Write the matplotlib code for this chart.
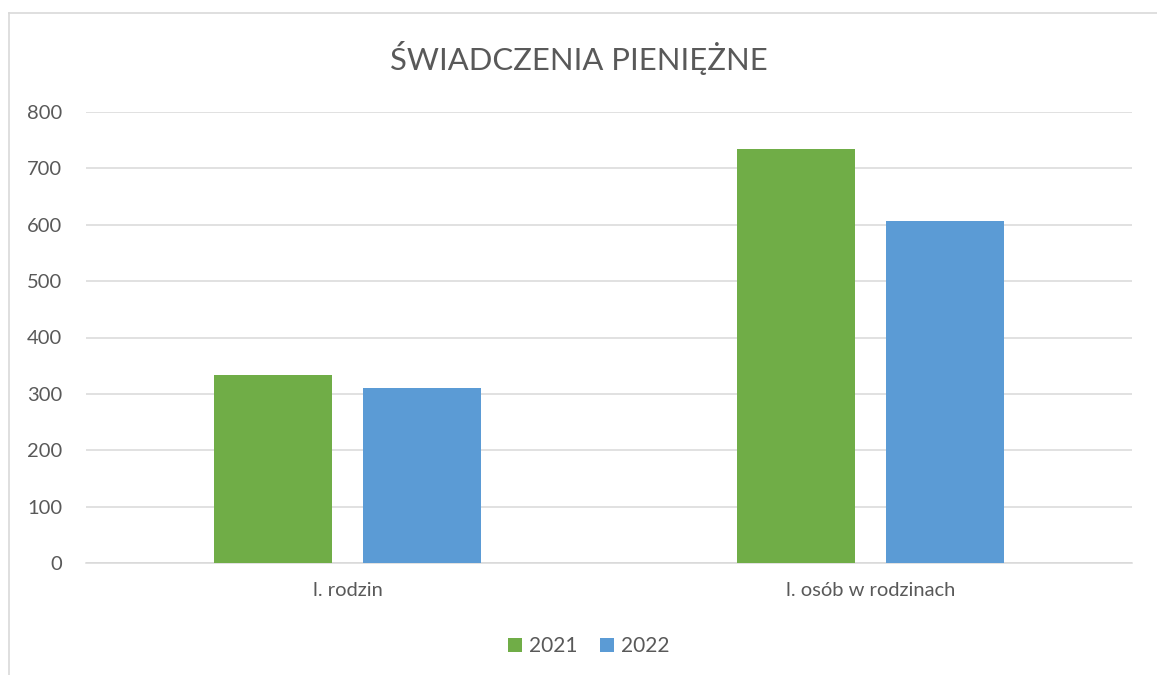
import numpy as np
import matplotlib.pyplot as plt
from matplotlib.lines import Line2D

plt.rcParams['font.family'] = ['Lato', 'DejaVu Sans']

categories = ["l. rodzin", "l. osób w rodzinach"]
series_names = ["2021", "2022"]
values_2021 = [334, 734]
values_2022 = [311, 606]
colors = ["#70ad47", "#5b9bd5"]
yticks = [0, 100, 200, 300, 400, 500, 600, 700, 800]

text_color = "#595959"
grid_color = "#d9d9d9"

fig = plt.figure(figsize=(11.57, 6.75), dpi=100)
ax = fig.add_axes([86 / 1157, 1 - 563 / 675, (1132 - 86) / 1157, (563 - 112) / 675])

x = np.arange(len(categories))
width = 0.224
offset = 0.1425
ax.bar(x - offset, values_2021, width, color=colors[0], label=series_names[0], zorder=3)
ax.bar(x + offset, values_2022, width, color=colors[1], label=series_names[1], zorder=3)

ax.set_xlim(-0.5, len(categories) - 0.5)
ax.set_ylim(0, 800)
ax.set_yticks(yticks)
ax.set_xticks(x)
ax.set_xticklabels(categories)
ax.yaxis.grid(True, color=grid_color, linewidth=1.1, zorder=0)
ax.tick_params(axis="both", length=0, labelsize=14.5, labelcolor=text_color)
ax.tick_params(axis="y", pad=17)
ax.tick_params(axis="x", pad=14)
for side in ["top", "right", "left"]:
    ax.spines[side].set_visible(False)
ax.spines["bottom"].set_color(grid_color)
ax.spines["bottom"].set_linewidth(1.1)

fig.text(0.5, 1 - 58 / 675, "ŚWIADCZENIA PIENIĘŻNE", ha="center", va="center",
         fontsize=22.3, color=text_color)

leg = fig.legend(loc="center", bbox_to_anchor=(589 / 1157, 1 - 646 / 675), ncol=2,
                 frameon=False, fontsize=15, handlelength=0.65, handleheight=0.65,
                 handletextpad=0.35, columnspacing=1.1)
for t in leg.get_texts():
    t.set_color(text_color)

# chart border (top and left visible)
fig.add_artist(Line2D([9 / 1157, 1], [1 - 13 / 675, 1 - 13 / 675], color=grid_color, linewidth=1.2))
fig.add_artist(Line2D([9 / 1157, 9 / 1157], [0, 1 - 13 / 675], color=grid_color, linewidth=1.2))

fig.savefig("out.png", dpi=100)
